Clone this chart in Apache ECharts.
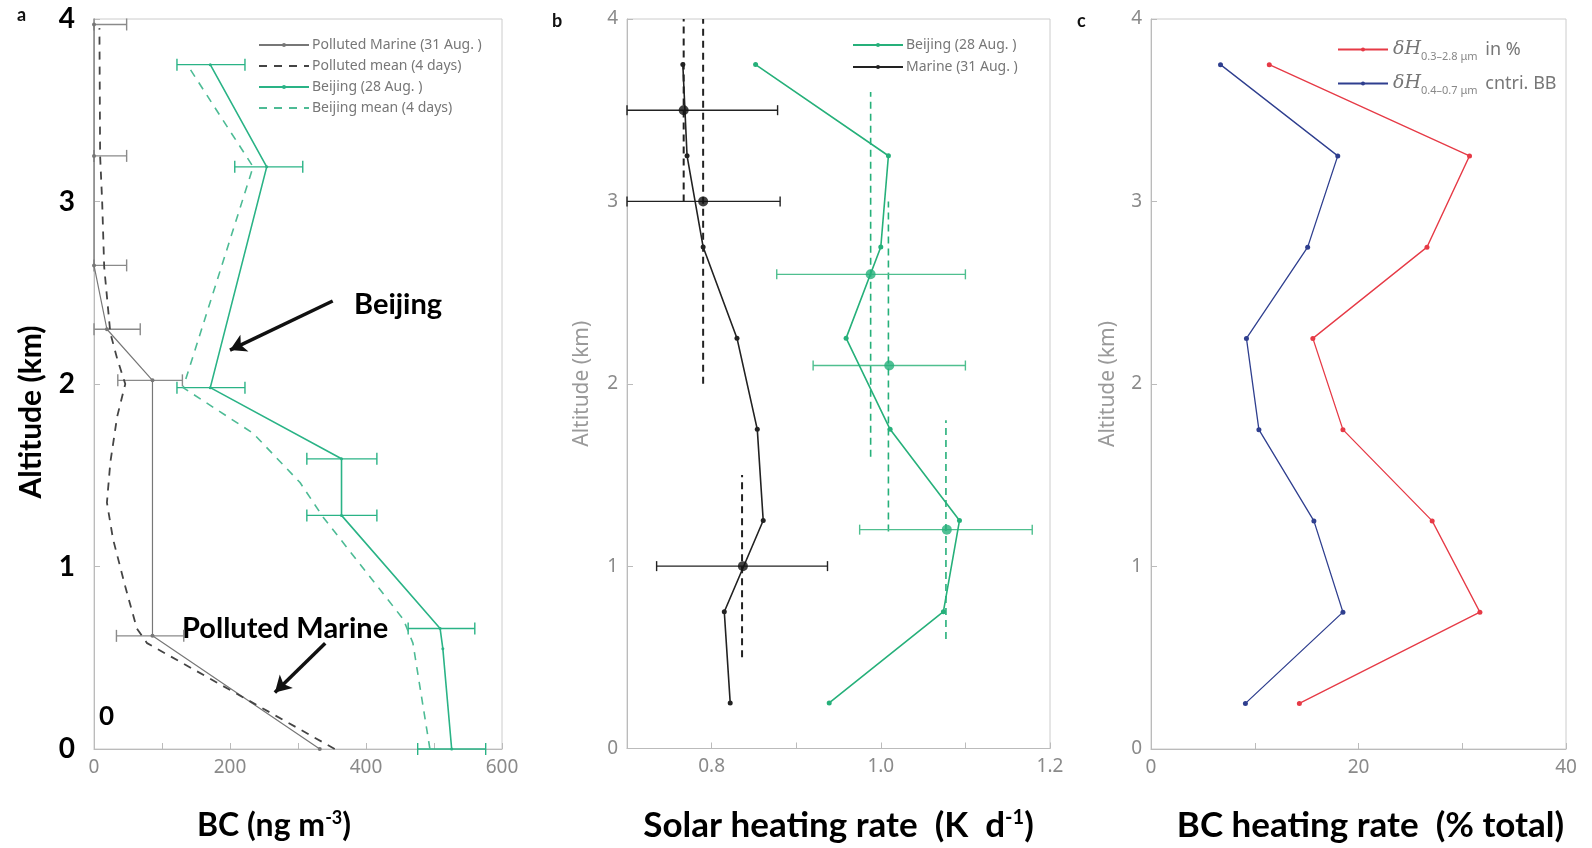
<!DOCTYPE html>
<html>
<head>
<meta charset="utf-8">
<script src="https://cdn.jsdelivr.net/npm/echarts@6/dist/echarts.min.js"></script>
<style>
  html, body { margin: 0; background: #fff; }
  #chart { width: 1592px; height: 848px; }
</style>
</head>
<body>
<div id="chart"></div>
<script>
// ---- panel a : BC mass concentration, points are [BC, altitude] ----
const marineBC = [[332, 0], [86, 0.62], [86, 2.02], [19, 2.30], [0, 2.65], [0, 3.25], [0, 3.97]];
const marineMeanBC = [[354, 0], [78, 0.58], [63, 0.66], [46, 0.89], [28, 1.15], [19, 1.35], [24, 1.57],
    [34, 1.82], [46, 2.0], [34, 2.14], [24, 2.28], [15, 2.64], [12, 3.0], [9, 3.25], [8, 3.95]];
const beijingBC = [[526, 0], [513, 0.55], [509, 0.66], [364, 1.28], [364, 1.59], [171, 1.98], [254, 3.19], [171, 3.75]];
const beijingMeanBC = [[494, 0], [469, 0.58], [455, 0.71], [337, 1.27], [303, 1.46], [234, 1.73], [131, 1.98], [234, 3.19], [137, 3.75]];
// error bars: [altitude, low, high]
const marineBCErr = [[3.97, 0, 48], [3.25, 0, 48], [2.65, 0, 48], [2.30, 0, 68], [2.02, 35, 130], [0.62, 33, 132]];
const beijingBCErr = [[3.75, 122, 222], [3.19, 207, 307], [1.98, 122, 222], [1.59, 313, 416],
    [1.28, 313, 416], [0.66, 462, 560], [0, 476, 576]];

// ---- panel b : solar heating rate (K/d) per layer ----
const layerAlt = [0.25, 0.75, 1.25, 1.75, 2.25, 2.75, 3.25, 3.75];
const marineHeat = [0.822, 0.815, 0.861, 0.854, 0.830, 0.790, 0.771, 0.766];
const beijingHeat = [0.939, 1.074, 1.093, 1.011, 0.959, 1.000, 1.009, 0.852];
const marineHeatMean = [[0.767, 3.5], [0.790, 3.0], [0.837, 1.0]];
const marineHeatErr = [[3.5, 0.70, 0.878], [3.0, 0.70, 0.881], [1.0, 0.735, 0.937]];
const beijingHeatMean = [[0.988, 2.6], [1.010, 2.1], [1.078, 1.2]];
const beijingHeatErr = [[2.6, 0.877, 1.100], [2.1, 0.920, 1.100], [1.2, 0.975, 1.179]];
// layer means drawn as dashed verticals: [value, alt bottom, alt top]
const marineHeatLayers = [[0.767, 3.0, 4.0], [0.790, 2.0, 4.0], [0.836, 0.5, 1.5]];
const beijingHeatLayers = [[0.988, 1.6, 3.6], [1.009, 1.19, 3.0], [1.077, 0.6, 1.8]];

// ---- panel c : BC share of heating rate (%) ----
const totalPct = [14.3, 31.7, 27.1, 18.5, 15.6, 26.6, 30.7, 11.4];
const visiblePct = [9.1, 18.5, 15.7, 10.4, 9.2, 15.1, 18.0, 6.7];

const xTicksA = [0, 200, 400, 600];
const xTicksB = [0.8, 1.0, 1.2];
const xTicksC = [0, 20, 40];

const GREEN = "#2ab386";
const GREEN_B = "#26b07a";
const BOLD = "Lato";
const THIN = "Noto Sans";

const chart = echarts.init(document.getElementById("chart"));

const pairs = (vals) => vals.map((v, i) => [v, layerAlt[i]]);

const errorBars = (name, data, axis, color, cap) => ({
    name, type: "custom", xAxisIndex: axis, yAxisIndex: axis,
    data, encode: {x: [1, 2], y: 0}, silent: true, z: 1,
    renderItem: (params, api) => {
        const alt = api.value(0);
        const a = api.coord([api.value(1), alt]);
        const b = api.coord([api.value(2), alt]);
        const style = {stroke: color, lineWidth: 1.4};
        return {type: "group", children: [
            {type: "line", shape: {x1: a[0], y1: a[1], x2: b[0], y2: b[1]}, style},
            {type: "line", shape: {x1: a[0], y1: a[1] - cap, x2: a[0], y2: a[1] + cap}, style},
            {type: "line", shape: {x1: b[0], y1: b[1] - cap, x2: b[0], y2: b[1] + cap}, style}
        ]};
    }
});

const layerLines = (name, data, axis, color, width, dash) => ({
    name, type: "custom", xAxisIndex: axis, yAxisIndex: axis,
    data, encode: {x: 0, y: [1, 2]}, silent: true, z: 1,
    renderItem: (params, api) => {
        const p = api.coord([api.value(0), api.value(1)]);
        const q = api.coord([api.value(0), api.value(2)]);
        return {type: "line", shape: {x1: p[0], y1: p[1], x2: q[0], y2: q[1]},
            style: {stroke: color, lineWidth: width, lineDash: dash}};
    }
});

const lineSeries = (name, data, axis, color, opts = {}) => ({
    name, type: "line", xAxisIndex: axis, yAxisIndex: axis, data,
    symbol: opts.symbol || "circle", symbolSize: opts.size || 4, showSymbol: opts.symbol !== "none",
    itemStyle: {color},
    lineStyle: {color, width: opts.width || 1.4, type: opts.dash || "solid"},
    z: 3, silent: true,
    markLine: opts.markLine
});

const xAxisBase = (idx, min, max, interval, shown, digits) => ({
    type: "value", gridIndex: idx, min, max, interval,
    splitLine: {show: false},
    axisLine: {lineStyle: {color: "#bbb"}},
    axisTick: {inside: true, length: 6, lineStyle: {color: "#bbb"}},
    axisLabel: {
        color: "#8a8a8a", fontFamily: THIN, fontSize: 19, margin: 9,
        formatter: (v) => shown.some(t => Math.abs(t - v) < 1e-6) ? v.toFixed(digits) : ""
    }
});

const yAxisBase = (idx, bold) => ({
    type: "value", gridIndex: idx, min: 0, max: 4, interval: 1,
    splitLine: {show: false},
    axisLine: {lineStyle: {color: "#bbb"}},
    axisTick: {inside: true, length: 6, lineStyle: {color: "#bbb"}},
    axisLabel: bold
        ? {color: "#000", fontFamily: BOLD, fontWeight: "bold", fontSize: 28, margin: 19}
        : {color: "#8a8a8a", fontFamily: THIN, fontSize: 19, margin: 9},
    nameLocation: "middle", nameRotate: 90
});

const nameStyle = {fontFamily: BOLD, fontWeight: "bold", fontSize: 35, color: "#000"};
const nameRich = {
    t: nameStyle,
    s: {fontFamily: BOLD, fontWeight: "bold", fontSize: 20, color: "#000", padding: [0, 0, 16, 0]}
};
const nameRichSmall = {
    t: Object.assign({}, nameStyle, {fontSize: 32}),
    s: {fontFamily: BOLD, fontWeight: "bold", fontSize: 18, color: "#000", padding: [0, 0, 15, 0]}
};

const legendBase = {
    orient: "vertical", itemWidth: 50, itemHeight: 5,
    textStyle: {fontFamily: THIN, fontSize: 14, color: "#777", padding: [0, 0, 0, -2]},
    selectedMode: false
};

const option = {
    animation: false,
    backgroundColor: "#fff",
    grid: [
        {left: 94, top: 19, width: 408, height: 730, show: true, borderColor: "#ccc"},
        {left: 627, top: 19, width: 423, height: 730, show: true, borderColor: "#ccc"},
        {left: 1151, top: 19, width: 415, height: 730, show: true, borderColor: "#ccc"}
    ],
    xAxis: [
        Object.assign(xAxisBase(0, 0, 600, 100, xTicksA, 0), {
            name: "{t|BC (ng m}{s|-3}{t|)}", nameLocation: "middle", nameGap: 60,
            nameTextStyle: {rich: nameRichSmall, padding: [0, 48, 0, 0]}
        }),
        Object.assign(xAxisBase(1, 0.7, 1.2, 0.1, xTicksB, 1), {
            name: "{t|Solar heating rate  (K  d}{s|-1}{t|)}", nameLocation: "middle", nameGap: 59,
            nameTextStyle: {rich: nameRich}
        }),
        Object.assign(xAxisBase(2, 0, 40, 10, xTicksC, 0), {
            name: "{t|BC heating rate  (% total)}", nameLocation: "middle", nameGap: 59,
            nameTextStyle: {rich: nameRich, padding: [0, 0, 0, 24]}
        })
    ],
    yAxis: [
        Object.assign(yAxisBase(0, true), {
            name: "Altitude (km)", nameGap: 48,
            nameTextStyle: Object.assign({}, nameStyle, {fontSize: 30, padding: [0, 56, 0, 0]})
        }),
        Object.assign(yAxisBase(1, false), {
            name: "Altitude (km)", nameGap: 34,
            nameTextStyle: {fontFamily: THIN, fontSize: 21, color: "#999"}
        }),
        Object.assign(yAxisBase(2, false), {
            name: "Altitude (km)", nameGap: 32,
            nameTextStyle: {fontFamily: THIN, fontSize: 21, color: "#999"}
        })
    ],
    legend: [
        Object.assign({}, legendBase, {
            left: 253, top: 33, itemGap: 7,
            data: [
                "Polluted Marine (31 Aug. )",
                {name: "Polluted mean (4 days)", itemStyle: {opacity: 0}},
                "Beijing (28 Aug. )",
                {name: "Beijing mean (4 days)", itemStyle: {opacity: 0}}
            ]
        }),
        Object.assign({}, legendBase, {
            left: 847, top: 33, itemGap: 8,
            data: ["Beijing (28 Aug. ) ", "Marine (31 Aug. )"]
        }),
        Object.assign({}, legendBase, {
            left: 1332, top: 35, itemGap: 12,
            data: ["total", "visible"],
            formatter: (n) => n === "total"
                ? "{d|δH}{sub|0.3–2.8 μm} in %"
                : "{d|δH}{sub|0.4–0.7 μm} cntri. BB",
            textStyle: {
                fontFamily: THIN, fontSize: 18, color: "#777",
                rich: {
                    d: {fontFamily: "DejaVu Serif", fontStyle: "italic", fontSize: 19, color: "#777"},
                    sub: {fontFamily: THIN, fontSize: 11, color: "#888", padding: [14, 3, 0, 0]}
                }
            }
        })
    ],
    series: [
        // panel a
        errorBars("errMarineBC", marineBCErr, 0, "#8a8a8a", 6),
        errorBars("errBeijingBC", beijingBCErr, 0, GREEN, 6),
        lineSeries("Polluted Marine (31 Aug. )", marineBC, 0, "#777", {size: 4, width: 1.2}),
        lineSeries("Polluted mean (4 days)", marineMeanBC, 0, "#444", {symbol: "none", dash: [8, 7], width: 1.8,
            markLine: {
                silent: true, symbol: ["none", "arrow"], symbolSize: [14, 16],
                lineStyle: {color: "#111", width: 3.5, type: "solid"},
                label: {show: false},
                data: [
                    [{coord: [351, 2.455]}, {coord: [200, 2.186]}],
                    [{coord: [340, 0.58]}, {coord: [266, 0.31]}]
                ]
            }}),
        lineSeries("Beijing (28 Aug. )", beijingBC, 0, GREEN, {size: 3, width: 1.6}),
        lineSeries("Beijing mean (4 days)", beijingMeanBC, 0, "#4dbb95", {symbol: "none", dash: [8, 7], width: 1.6}),
        // panel b
        layerLines("layMarine", marineHeatLayers, 1, "#222", 2, [7, 5]),
        layerLines("layBeijing", beijingHeatLayers, 1, GREEN_B, 1.6, [7, 5]),
        errorBars("errMarineHeat", marineHeatErr, 1, "#222", 5),
        errorBars("errBeijingHeat", beijingHeatErr, 1, "#4fbf8f", 5),
        lineSeries("Beijing (28 Aug. ) ", pairs(beijingHeat), 1, GREEN_B, {size: 5, width: 1.6}),
        lineSeries("Marine (31 Aug. )", pairs(marineHeat), 1, "#222", {size: 5, width: 1.6}),
        {type: "scatter", xAxisIndex: 1, yAxisIndex: 1, data: marineHeatMean, symbolSize: 10,
            itemStyle: {color: "#111"}, z: 4, silent: true},
        {type: "scatter", xAxisIndex: 1, yAxisIndex: 1, data: beijingHeatMean, symbolSize: 10,
            itemStyle: {color: GREEN_B}, z: 4, silent: true},
        // panel c
        lineSeries("total", pairs(totalPct), 2, "#e63a46", {size: 5, width: 1.3}),
        lineSeries("visible", pairs(visiblePct), 2, "#2f3f8f", {size: 5, width: 1.3})
    ],
    graphic: [
        {type: "text", left: 17, top: 6, style: {text: "a", font: `bold 18px ${BOLD}`, fill: "#111"}},
        {type: "text", left: 552, top: 12, style: {text: "b", font: `bold 18px ${BOLD}`, fill: "#111"}},
        {type: "text", left: 1077, top: 12, style: {text: "c", font: `bold 18px ${BOLD}`, fill: "#111"}},
        {type: "text", left: 354, top: 290, style: {text: "Beijing", font: `bold 29px ${BOLD}`, fill: "#000"}},
        {type: "text", left: 182, top: 614, style: {text: "Polluted Marine", font: `bold 29px ${BOLD}`, fill: "#000"}},
        {type: "text", left: 99, top: 704, style: {text: "0", font: `bold 26px ${BOLD}`, fill: "#000"}}
    ]
};

chart.setOption(option);
</script>
</body>
</html>
